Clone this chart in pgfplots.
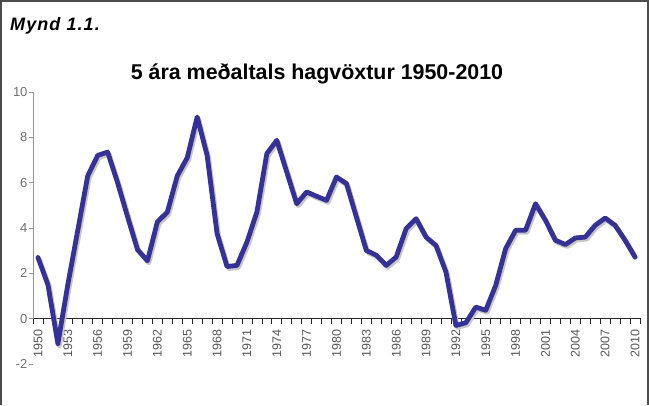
\documentclass[border=0pt]{standalone}
\usepackage{pgfplots}
\usepackage{pgfplotstable}
\pgfplotsset{compat=1.18}
\usepackage{fontspec}
\setmainfont{Liberation Sans}
\definecolor{linecol}{RGB}{52,50,150}
\definecolor{tickgray}{RGB}{85,85,85}
\definecolor{axgray}{RGB}{150,150,150}
\pgfplotstableread{
year val
1950 2.7
1951 1.5
1952 -1.1
1953 1.5
1954 3.9
1955 6.3
1956 7.2
1957 7.35
1958 6.0
1959 4.5
1960 3.05
1961 2.55
1962 4.27
1963 4.7
1964 6.3
1965 7.1
1966 8.9
1967 7.2
1968 3.75
1969 2.3
1970 2.35
1971 3.38
1972 4.7
1973 7.28
1974 7.87
1975 6.47
1976 5.07
1977 5.59
1978 5.4
1979 5.22
1980 6.25
1981 5.96
1982 4.48
1983 3.01
1984 2.8
1985 2.35
1986 2.72
1987 3.97
1988 4.41
1989 3.6
1990 3.23
1991 2.06
1992 -0.3
1993 -0.18
1994 0.51
1995 0.37
1996 1.47
1997 3.09
1998 3.9
1999 3.9
2000 5.07
2001 4.34
2002 3.46
2003 3.27
2004 3.56
2005 3.6
2006 4.12
2007 4.44
2008 4.12
2009 3.46
2010 2.72
}\growth
\begin{document}
\begin{tikzpicture}[x=1pt,y=1pt]
\useasboundingbox (-33,-41) rectangle (616,364);
\draw[line width=1.6pt, black!70] (-32,-41) -- (-32,363.2) -- (615.2,363.2) -- (615.2,-41);
\node[anchor=base west, inner sep=0pt, font=\fontsize{18}{20}\selectfont\bfseries\itshape\addfontfeature{LetterSpace=6}] at (-23,333) {Mynd 1.1.};
\node[anchor=base, inner sep=0pt, font=\fontsize{21.4}{23}\selectfont\bfseries] at (284,284) {5 ára meðaltals hagvöxtur 1950-2010};
\begin{axis}[
  at={(0,0)}, anchor=south west, scale only axis,
  width=607pt, height=272pt,
  xmin=1949.5, xmax=2010.5, ymin=-2, ymax=10,
  clip=false,
  axis x line*=middle, axis y line*=left,
  y axis line style={draw=none},
  x axis line style={black!85, line width=0.8pt},
  xtick={1950,1953,...,2010},
  minor xtick={1949.5,1950.5,...,2010.5},
  ytick={-2,0,...,10},
  tick align=center,
  major tick length=4pt,
  minor tick length=6pt,
  major x tick style={draw=none},
  minor x tick style={black!85, line width=0.7pt, yshift=-2pt},
  major y tick style={axgray, line width=0.7pt, xshift=-2pt},
  /pgf/number format/assume math mode=true,
  /pgf/number format/1000 sep={},
  xticklabel style={yshift=-5pt, rotate=90, anchor=east, font=\fontsize{12.5}{13}\selectfont, text=tickgray},
  yticklabel style={font=\fontsize{13}{13}\selectfont, text=tickgray!85},
]
\draw[axgray, line width=0.8pt] (axis cs:1949.5,0) -- (axis cs:1949.5,10);
\addplot[black!22, line width=4.8pt, line join=round, xshift=1.5pt, yshift=-2pt] table[x=year, y=val] {\growth};
\addplot[linecol, line width=4.8pt, line join=round, line cap=round] table[x=year, y=val] {\growth};
\end{axis}
\end{tikzpicture}
\end{document}
